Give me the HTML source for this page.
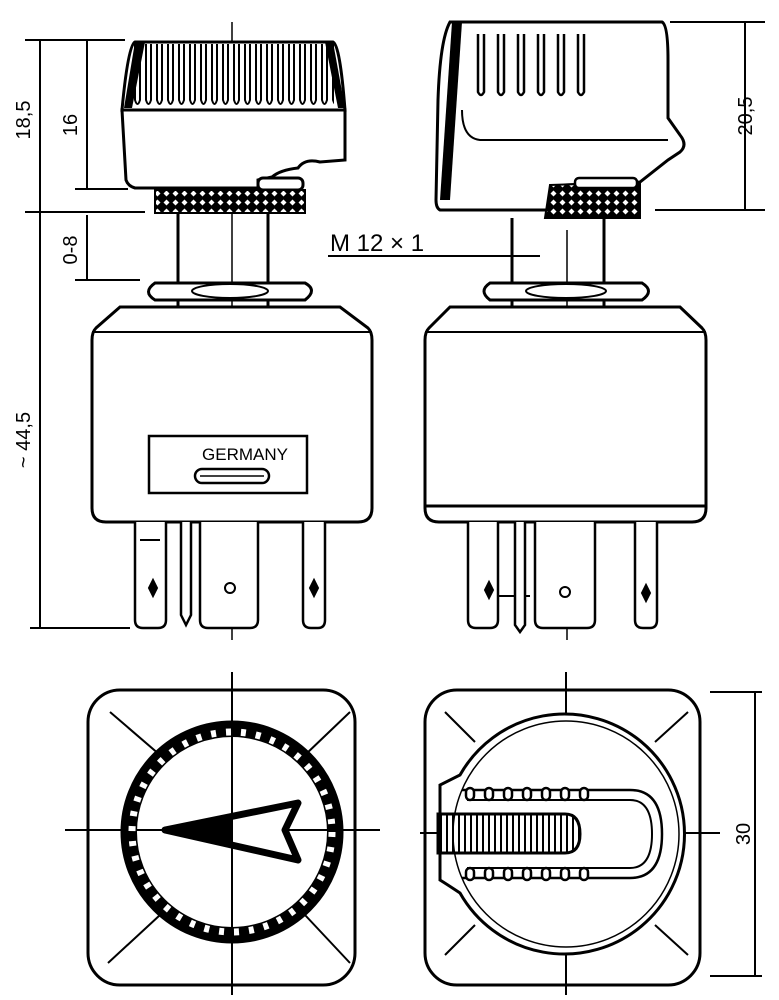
<!DOCTYPE html>
<html><head><meta charset="utf-8"><style>html,body{margin:0;padding:0;background:#fff}svg{display:block}</style></head>
<body>
<svg width="779" height="1000" viewBox="0 0 779 1000" xmlns="http://www.w3.org/2000/svg" font-family="Liberation Sans, sans-serif">
<defs>
<pattern id="knurl" width="9" height="9" patternUnits="userSpaceOnUse"><rect width="9" height="9" fill="#000"/><path d="M4.5 1.5 L7.5 4.5 L4.5 7.5 L1.5 4.5Z" fill="#fff"/></pattern>
<pattern id="ribs" x="0" y="44" width="11" height="70" patternUnits="userSpaceOnUse"><path d="M3 0 V56 Q5.5 64 8 56 V0" fill="none" stroke="#000" stroke-width="2"/></pattern>
<pattern id="ribs2" width="6" height="30" patternUnits="userSpaceOnUse"><line x1="3" y1="0" x2="3" y2="30" stroke="#000" stroke-width="2"/></pattern>
</defs>
<g fill="none" stroke="#000" stroke-width="2">
<line x1="40" y1="40" x2="40" y2="628"/>
<line x1="25" y1="40" x2="125" y2="40"/>
<line x1="25" y1="212" x2="145" y2="212"/>
<line x1="30" y1="628" x2="130" y2="628"/>
<line x1="87" y1="40" x2="87" y2="188"/>
<line x1="75" y1="189" x2="128" y2="189"/>
<line x1="87" y1="215" x2="87" y2="280"/>
<line x1="75" y1="280" x2="140" y2="280"/>
<line x1="232" y1="22" x2="232" y2="640" stroke-width="1.5"/>
<path d="M135 42 L333 42 Q340 45 345 110 L122 110 Q128 45 135 42Z" fill="#fff" stroke-width="3"/>
<rect x="134" y="44" width="200" height="64" fill="url(#ribs)" stroke="none"/>
<path d="M135 42 L145 42 L132 108 L124 108Z" fill="#000" stroke="none"/>
<path d="M333 42 L325 42 L338 108 L345 108Z" fill="#000" stroke="none"/>
<line x1="124" y1="116" x2="344" y2="116"/>
<path d="M122 110 L345 110 L345 160 L320 162 Q305 158 298 168 Q280 170 272 177 L258 180 L258 188 L135 188 Q128 186 126 180 Z" fill="#fff" stroke-width="3"/>
<rect x="258" y="178" width="45" height="12" rx="5" fill="#fff" stroke-width="3"/>
<rect x="155" y="190" width="150" height="23" fill="url(#knurl)" stroke-width="2"/>
<line x1="178" y1="213" x2="178" y2="285" stroke-width="3"/>
<line x1="268" y1="213" x2="268" y2="285" stroke-width="3"/>
<path d="M155 283 L305 283 Q318 290 305 300 L155 300 Q142 292 155 283Z" fill="#fff" stroke-width="3"/>
<ellipse cx="230" cy="291" rx="38" ry="7"/>
<line x1="178" y1="300" x2="178" y2="308" stroke-width="3"/><line x1="268" y1="300" x2="268" y2="308" stroke-width="3"/>
<path d="M120 307 L340 307 L368 328 Q372 332 372 340 L372 508 Q372 522 358 522 L106 522 Q92 522 92 508 L92 340 Q92 332 96 328Z" fill="#fff" stroke-width="3"/>
<line x1="92" y1="332" x2="372" y2="332"/>
<rect x="149" y="436" width="158" height="57" stroke-width="2.5"/>
<rect x="195" y="469" width="74" height="14" rx="7" stroke-width="2.5"/>
<line x1="200" y1="476" x2="264" y2="476" stroke-width="1.5"/>
<path d="M135 522 V620 Q135 628 143 628 H158 Q166 628 166 620 V522" fill="#fff" stroke-width="2.5"/>
<line x1="140" y1="540" x2="160" y2="540"/>
<path d="M149 588 L153 580 L157 588 L153 596Z" fill="#000"/>
<path d="M181 522 V615 L186 625 L191 615 V522" fill="#fff" stroke-width="2.5"/>
<path d="M200 522 V620 Q200 628 208 628 H250 Q258 628 258 620 V522" fill="#fff" stroke-width="2.5"/>
<circle cx="230" cy="588" r="5"/>
<path d="M303 522 V620 Q303 628 311 628 H318 Q325 628 325 620 V522" fill="#fff" stroke-width="2.5"/>
<path d="M314 580 L318 588 L314 596 L310 588Z" fill="#000"/>
<line x1="567" y1="230" x2="567" y2="640" stroke-width="1.5"/>
<line x1="567" y1="22" x2="567" y2="200" stroke-width="1.5"/>
<path d="M450 22 L662 22 Q668 25 668 60 L668 118 L680 135 Q688 145 680 152 L668 160 L640 182 L565 185 L548 210 L440 210 Q436 208 436 200 L438 100 Q440 40 450 22Z" fill="#fff" stroke-width="3"/>
<path d="M452 22 L462 22 L450 200 L440 200 Z" fill="#000" stroke="none"/>
<g stroke-width="2.5">
<path d="M498 34 V92 Q501 98 504 92 V34"/><path d="M518 34 V92 Q521 98 524 92 V34"/><path d="M538 34 V92 Q541 98 544 92 V34"/><path d="M558 34 V92 Q561 98 564 92 V34"/><path d="M578 34 V92 Q581 98 584 92 V34"/><path d="M478 34 V92 Q481 98 484 92 V34"/>
</g>
<path d="M462 110 Q462 138 480 140 L668 140" stroke-width="2"/>
<path d="M550 185 L640 182 L640 218 L545 218 Z" fill="url(#knurl)" stroke-width="2"/>
<rect x="575" y="178" width="62" height="10" rx="4" fill="#fff" stroke-width="2.5"/>
<line x1="512" y1="218" x2="512" y2="285" stroke-width="3"/>
<line x1="604" y1="218" x2="604" y2="285" stroke-width="3"/>
<line x1="670" y1="22" x2="765" y2="22"/>
<line x1="655" y1="210" x2="765" y2="210"/>
<line x1="745" y1="22" x2="745" y2="210"/>
<path d="M328 256 L540 256"/>
<path d="M490 283 L642 283 Q655 291 642 300 L490 300 Q478 291 490 283Z" fill="#fff" stroke-width="3"/>
<ellipse cx="566" cy="291" rx="40" ry="7"/>
<line x1="512" y1="300" x2="512" y2="308" stroke-width="3"/><line x1="604" y1="300" x2="604" y2="308" stroke-width="3"/>
<path d="M450 307 L680 307 L702 328 Q706 332 706 340 L706 508 Q706 522 692 522 L439 522 Q425 522 425 508 L425 340 Q425 332 429 328Z" fill="#fff" stroke-width="3"/>
<line x1="425" y1="332" x2="706" y2="332"/>
<line x1="425" y1="506" x2="706" y2="506" stroke-width="3"/>
<path d="M468 522 V620 Q468 628 476 628 H490 Q498 628 498 620 V522" fill="#fff" stroke-width="2.5"/>
<line x1="498" y1="596" x2="530" y2="596"/><path d="M489 582 L493 590 L489 598 L485 590Z" fill="#000"/>
<path d="M515 522 V625 L520 632 L525 625 V522" fill="#fff" stroke-width="2.5"/>
<path d="M535 522 V620 Q535 628 543 628 H587 Q595 628 595 620 V522" fill="#fff" stroke-width="2.5"/>
<circle cx="565" cy="592" r="5"/>
<path d="M635 522 V620 Q635 628 643 628 H650 Q657 628 657 620 V522" fill="#fff" stroke-width="2.5"/>
<path d="M646 585 L650 593 L646 601 L642 593Z" fill="#000"/>
<rect x="88" y="690" width="267" height="295" rx="32" stroke-width="3"/>
<line x1="65" y1="830" x2="380" y2="830"/>
<line x1="232" y1="672" x2="232" y2="995"/>
<line x1="110" y1="712" x2="160" y2="755"/><line x1="350" y1="712" x2="305" y2="755"/>
<line x1="108" y1="963" x2="160" y2="915"/><line x1="350" y1="963" x2="305" y2="915"/>
<circle cx="232" cy="832" r="110" stroke-width="3"/>
<circle cx="232" cy="832" r="102" stroke-width="14"/>
<circle cx="232" cy="832" r="100" stroke="#fff" stroke-width="7" stroke-dasharray="5 10"/>
<path d="M165 830 L298 803 L285 830 L298 860Z" fill="#fff" stroke-width="7" stroke-linejoin="round"/>
<path d="M165 830 L232 818 L232 842Z" fill="#000"/>
<rect x="425" y="690" width="275" height="295" rx="32" stroke-width="3"/>
<line x1="420" y1="833" x2="720" y2="833"/>
<line x1="566" y1="672" x2="566" y2="995"/>
<line x1="445" y1="712" x2="475" y2="742"/><line x1="688" y1="712" x2="655" y2="742"/>
<line x1="445" y1="955" x2="475" y2="925"/><line x1="688" y1="955" x2="655" y2="925"/>
<path d="M460 775 A120 120 0 1 1 460 893 Q448 885 440 880 L440 785 Q450 780 460 775Z" fill="#fff" stroke-width="3"/>
<circle cx="566" cy="834" r="113" stroke-width="1.5"/>
<path d="M462 790 L630 790 Q662 790 662 834 Q662 878 630 878 L462 878" stroke-width="2.5"/>
<path d="M467 800 L630 800 Q652 800 652 834 Q652 868 630 868 L467 868" stroke-width="2"/>
<path d="M438 814 L565 814 Q580 814 580 834 Q580 853 565 853 L438 853Z" fill="url(#ribs2)" stroke-width="3"/>
<g fill="#fff" stroke-width="2.5">
<rect x="466" y="788" width="8" height="12" rx="4"/><rect x="485" y="788" width="8" height="12" rx="4"/><rect x="504" y="788" width="8" height="12" rx="4"/><rect x="523" y="788" width="8" height="12" rx="4"/><rect x="542" y="788" width="8" height="12" rx="4"/><rect x="561" y="788" width="8" height="12" rx="4"/><rect x="580" y="788" width="8" height="12" rx="4"/>
<rect x="466" y="868" width="8" height="12" rx="4"/><rect x="485" y="868" width="8" height="12" rx="4"/><rect x="504" y="868" width="8" height="12" rx="4"/><rect x="523" y="868" width="8" height="12" rx="4"/><rect x="542" y="868" width="8" height="12" rx="4"/><rect x="561" y="868" width="8" height="12" rx="4"/><rect x="580" y="868" width="8" height="12" rx="4"/>
</g>
<line x1="710" y1="692" x2="762" y2="692"/>
<line x1="710" y1="976" x2="762" y2="976"/>
<line x1="755" y1="692" x2="755" y2="976"/>
</g>
<g fill="#000" font-size="20">
<text transform="translate(30 120) rotate(-90)" text-anchor="middle">18,5</text>
<text transform="translate(77 125) rotate(-90)" text-anchor="middle">16</text>
<text transform="translate(77 250) rotate(-90)" text-anchor="middle">0-8</text>
<text transform="translate(30 440) rotate(-90)" text-anchor="middle">~ 44,5</text>
<text transform="translate(752 116) rotate(-90)" text-anchor="middle">20,5</text>
<text transform="translate(750 834) rotate(-90)" text-anchor="middle">30</text>
<text x="330" y="251" font-size="24">M 12 × 1</text>
<text x="245" y="460" font-size="17" text-anchor="middle">GERMANY</text>
</g>
</svg>
</body></html>
